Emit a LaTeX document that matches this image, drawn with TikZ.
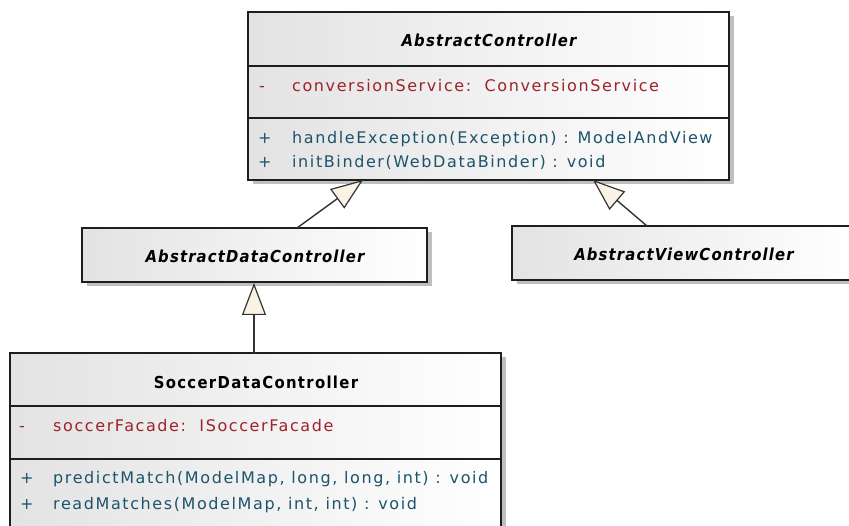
\documentclass[tikz,border=0pt]{standalone}
\usepackage{fontspec}
\setmainfont{DejaVu Sans Condensed}
\newfontfamily\memberfont{DejaVu Sans}
\usetikzlibrary{arrows.meta,shadows}

\definecolor{attrcol}{RGB}{158,34,44}
\definecolor{opcol}{RGB}{28,84,108}
\definecolor{tipfill}{RGB}{250,242,228}
\definecolor{edgecol}{RGB}{30,30,30}

\tikzset{
  classbox/.style={draw=edgecol, line width=1.6pt, anchor=north west,
    inner sep=0pt, outer sep=0pt, left color=black!11, right color=white,
    drop shadow={shadow xshift=4.5pt, shadow yshift=-4.5pt, fill=black!25, opacity=1}},
  divider/.style={draw=edgecol, line width=1.4pt},
  cname/.style={font=\fontsize{16.5}{19}\selectfont\bfseries\itshape\addfontfeature{LetterSpace=7}, text=black},
  cnameplain/.style={font=\fontsize{16.5}{19}\selectfont\bfseries\addfontfeature{LetterSpace=8}, text=black},
  member/.style={anchor=west, inner sep=0pt, text height=12pt, text depth=3.5pt,
    font=\memberfont\fontsize{16}{19}\selectfont\addfontfeature{LetterSpace=10}},
  attr/.style={member, text=attrcol},
  oper/.style={member, text=opcol},
  inherit/.style={draw=black!80, line width=1.4pt,
    -{Triangle[length=32pt, width=24pt, fill=tipfill, line width=1.2pt]}},
}

\begin{document}
\begin{tikzpicture}[x=1pt, y=-1pt]
\useasboundingbox (0,0) rectangle (849,526);

% AbstractController
\node[classbox, minimum width=481pt, minimum height=168pt] (ac) at (248,12) {};
\draw[divider] (248,66) -- (729,66);
\draw[divider] (248,118) -- (729,118);
\node[cname] (acname) at (489,40) {AbstractController};
\node[attr] (acvis1) at (259,87) {-};
\node[attr] (acattr1) at (292,87) {conversionService:\ \ ConversionService};
\node[oper] (acvis2) at (258,139) {+};
\node[oper] (acop1) at (292,139) {handleException(Exception) : ModelAndView};
\node[oper] (acvis3) at (258,163) {+};
\node[oper] (acop2) at (292,163) {initBinder(WebDataBinder) : void};

% AbstractDataController
\node[classbox, minimum width=345pt, minimum height=54pt] (adc) at (82,228) {};
\node[cname] (adcname) at (255,256) {AbstractDataController};

% AbstractViewController
\node[classbox, minimum width=343pt, minimum height=54pt] (avc) at (512,226) {};
\node[cname] (avcname) at (684,254) {AbstractViewController};

% SoccerDataController
\node[classbox, minimum width=491pt, minimum height=200pt] (sdc) at (10,353) {};
\draw[divider] (10,406) -- (501,406);
\draw[divider] (10,459) -- (501,459);
\node[cnameplain] (sdcname) at (256,382) {SoccerDataController};
\node[attr] (sdcvis1) at (19,427) {-};
\node[attr] (sdcattr1) at (53,427) {soccerFacade:\ \ ISoccerFacade};
\node[oper] (sdcvis2) at (20,479) {+};
\node[oper] (sdcop1) at (53,479) {predictMatch(ModelMap, long, long, int) : void};
\node[oper] (sdcvis3) at (20,505) {+};
\node[oper] (sdcop2) at (53,505) {readMatches(ModelMap, int, int) : void};

% attachment points of the generalisations
\coordinate (adcTop) at (297,228);
\coordinate (acLeft) at (363,180);
\coordinate (avcTop) at (647,226);
\coordinate (acRight) at (593,180);
\coordinate (sdcTop) at (254,353);
\coordinate (adcBottom) at (254,283);

\draw[inherit] (adcTop) -- (acLeft);
\draw[inherit] (avcTop) -- (acRight);
\draw[inherit] (sdcTop) -- (adcBottom);
\end{tikzpicture}
\end{document}
